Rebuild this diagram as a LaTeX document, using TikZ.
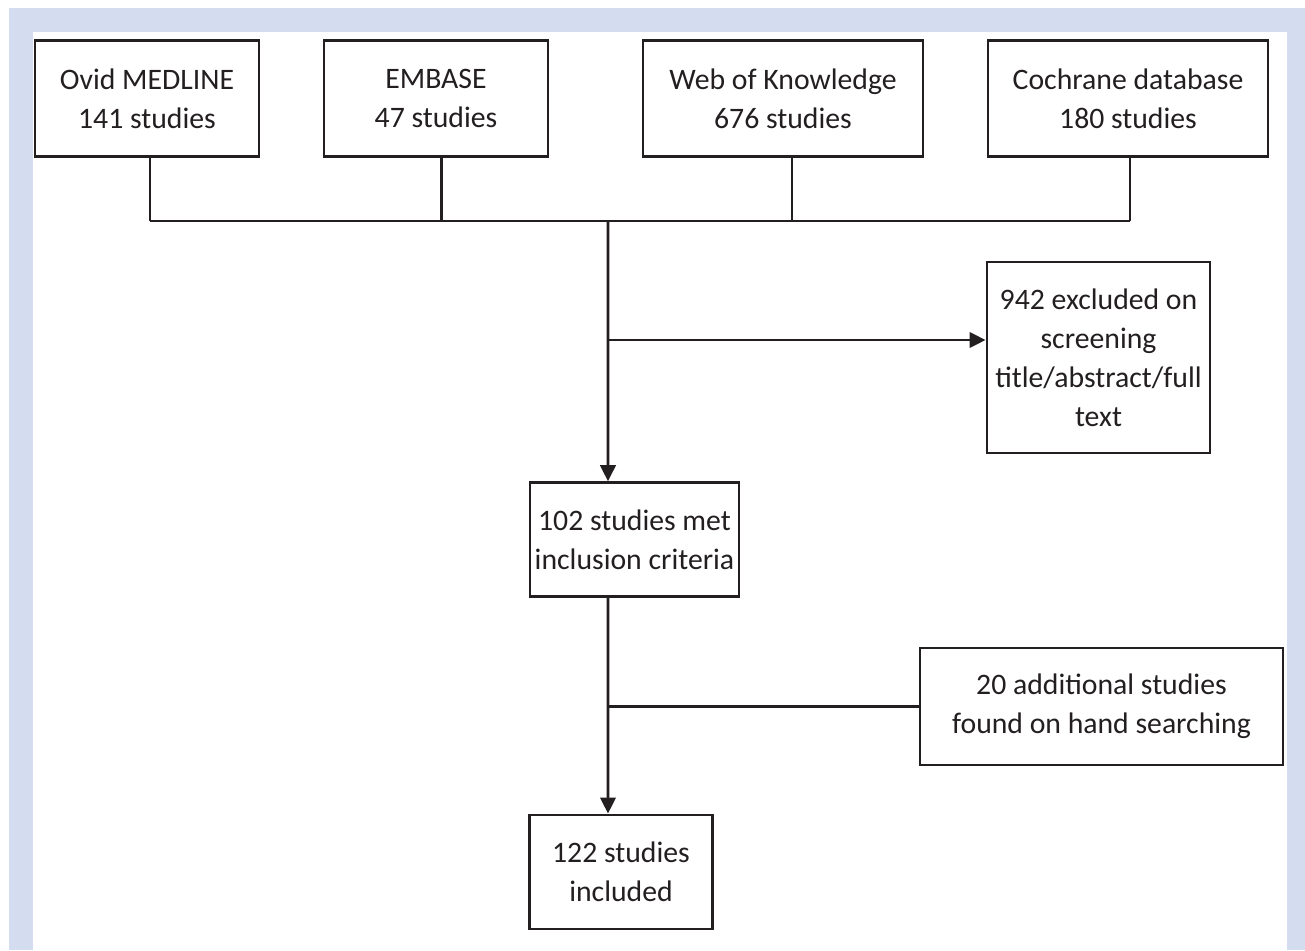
\documentclass[tikz,border=0pt]{standalone}
\usepackage{fontspec}
\setmainfont{Carlito}
\usetikzlibrary{arrows.meta}
\definecolor{frame}{RGB}{212,221,239}
\definecolor{ink}{RGB}{35,31,32}
\begin{document}
\begin{tikzpicture}[x=0.75pt,y=-0.75pt,
  box/.style={draw=ink, line width=2.2pt, fill=white, text=ink, align=center, inner sep=0pt, font=\fontsize{22.3}{29.3}\selectfont},
  conn/.style={draw=ink, line width=2.2pt},
  arr/.style={conn, -{Triangle[length=12pt,width=11.5pt]}}]
\useasboundingbox (0,0) rectangle (1305,950);
\fill[white] (0,0) rectangle (1305,950);
\fill[frame] (9,8) rectangle (1305,950);
\fill[white] (32.7,31.7) rectangle (1286.5,950);

\node[box, minimum width=168pt, minimum height=87pt] (ovid) at (147,98.7) {Ovid MEDLINE\\141 studies};
\node[box, minimum width=168pt, minimum height=87pt] (embase) at (436,98.5) {EMBASE\\47 studies};
\node[box, minimum width=210pt, minimum height=87pt] (wok) at (783,98.5) {Web of Knowledge\\676 studies};
\node[box, minimum width=210pt, minimum height=87pt] (coch) at (1128,98.5) {Cochrane database\\180 studies};
\node[box, minimum width=156.75pt, minimum height=85.5pt] (met) at (634.5,539.7) {102 studies met\\inclusion criteria};
\node[box, minimum width=167.25pt, minimum height=143.25pt] (excl) at (1098.5,357.5) {942 excluded on\\screening\\title/abstract/full\\text};
\node[box, minimum width=272.25pt, minimum height=87.75pt] (add) at (1101.5,706.5) {20 additional studies\\found on hand searching};
\node[box, minimum width=137.25pt, minimum height=85.5pt] (inc) at (621,872) {122 studies\\included};

\coordinate (busL) at (150,221);
\coordinate (busR) at (1130,221);
\coordinate (split) at (608,221);
\coordinate (b1) at (608,340);
\coordinate (b2) at (608,706.5);

\draw[conn] (busL) -- (busR);
\draw[conn] ([xshift=2.25pt]ovid.south) -- ([xshift=2.25pt]ovid.south |- busL);
\draw[conn] ([xshift=4.3pt]embase.south) -- ([xshift=4.3pt]embase.south |- busL);
\draw[conn] ([xshift=6.75pt]wok.south) -- ([xshift=6.75pt]wok.south |- busL);
\draw[conn] ([xshift=1.5pt]coch.south) -- ([xshift=1.5pt]coch.south |- busL);
\draw[arr] (split) -- ([xshift=-19.9pt]met.north);
\draw[arr] (b1) -- (b1 -| excl.west);
\draw[arr] ([xshift=-19.9pt]met.south) -- ([xshift=-9.75pt]inc.north);
\draw[conn] (b2) -- (add.west);
\end{tikzpicture}
\end{document}
